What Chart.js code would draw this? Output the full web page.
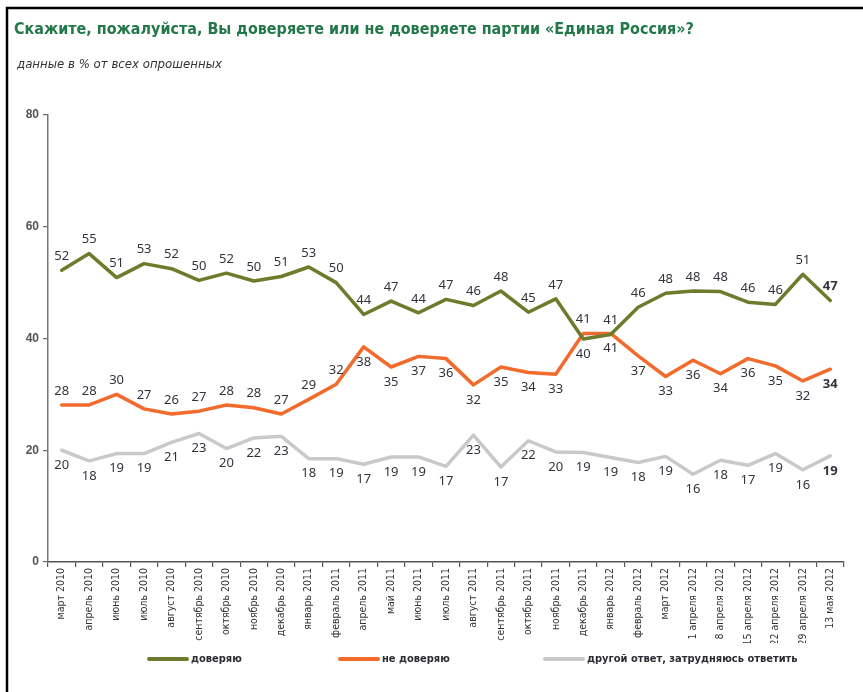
<!DOCTYPE html>
<html>
<head>
<meta charset="utf-8">
<script src="https://cdn.jsdelivr.net/npm/chart.js@4.4.0/dist/chart.umd.min.js"></script>
<style>
  html, body { margin: 0; padding: 0; background: #fff; }
  #wrap { position: relative; width: 863px; height: 692px; }
</style>
</head>
<body>
<div id="wrap"><canvas id="chart" width="863" height="692"></canvas></div>
<script>
const categories = [
  'март 2010', 'апрель 2010', 'июнь 2010', 'июль 2010', 'август 2010', 'сентябрь 2010',
  'октябрь 2010', 'ноябрь 2010', 'декабрь 2010', 'январь 2011', 'февраль 2011', 'апрель 2011',
  'май 2011', 'июнь 2011', 'июль 2011', 'август 2011', 'сентябрь 2011', 'октябрь 2011',
  'ноябрь 2011', 'декабрь 2011', 'январь 2012', 'февраль 2012', 'март 2012', '1 апреля 2012',
  '8 апреля 2012', '15 апреля 2012', '22 апреля 2012', '29 апреля 2012', '13 мая 2012'
];

// line positions (unrounded, as drawn)
const trust = [52.2, 55.2, 50.9, 53.4, 52.5, 50.4, 51.7, 50.3, 51.1, 52.8, 50.0, 44.3, 46.7, 44.6, 47.0,
  45.9, 48.5, 44.7, 47.1, 39.9, 40.7, 45.6, 48.1, 48.5, 48.4, 46.5, 46.1, 51.5, 46.8];
const distrust = [28.1, 28.1, 30.0, 27.4, 26.5, 27.0, 28.1, 27.6, 26.5, 29.1, 31.8, 38.5, 34.9, 36.8, 36.4,
  31.7, 34.9, 33.9, 33.6, 40.9, 40.9, 36.9, 33.2, 36.1, 33.7, 36.4, 35.1, 32.4, 34.5];
const other = [20.0, 18.1, 19.4, 19.4, 21.4, 23.0, 20.3, 22.2, 22.5, 18.5, 18.5, 17.5, 18.8, 18.8, 17.1,
  22.7, 17.0, 21.7, 19.7, 19.6, 18.7, 17.8, 18.9, 15.7, 18.2, 17.3, 19.4, 16.5, 19.0];

// printed (rounded) values
const trustLabels = [52, 55, 51, 53, 52, 50, 52, 50, 51, 53, 50, 44, 47, 44, 47,
  46, 48, 45, 47, 40, 41, 46, 48, 48, 48, 46, 46, 51, 47];
const distrustLabels = [28, 28, 30, 27, 26, 27, 28, 28, 27, 29, 32, 38, 35, 37, 36,
  32, 35, 34, 33, 41, 41, 37, 33, 36, 34, 36, 35, 32, 34];
const otherLabels = [20, 18, 19, 19, 21, 23, 20, 22, 23, 18, 19, 17, 19, 19, 17,
  23, 17, 22, 20, 19, 19, 18, 19, 16, 18, 17, 19, 16, 19];

const seriesNames = ['доверяю', 'не доверяю', 'другой ответ, затрудняюсь ответить'];

// u = label above the line, d = below
const trustSide    = 'uuuuuuuuuuuuuuuuuuuduuuuuuuuu';
const distrustSide = 'uuuuuuuuuuudddddddduddddddddd';
const otherSide    = 'ddddddddddddddddddddddddddddd';

const TITLE = 'Скажите, пожалуйста, Вы доверяете или не доверяете партии «Единая Россия»?';
const SUBTITLE = 'данные в % от всех опрошенных';
const COND = '"DejaVu Sans Condensed", "Roboto", sans-serif';

function fitFont(ctx, text, style, family, width) {
  ctx.font = style + ' 100px ' + family;
  const w = ctx.measureText(text).width;
  return style + ' ' + (100 * width / w).toFixed(2) + 'px ' + family;
}

const frameAndTitle = {
  id: 'frameAndTitle',
  beforeDraw(chart) {
    const ctx = chart.ctx;
    ctx.save();
    ctx.fillStyle = '#fff';
    ctx.fillRect(0, 0, chart.width, chart.height);
    ctx.strokeStyle = '#000';
    ctx.lineWidth = 2.5;
    ctx.beginPath();
    ctx.moveTo(7, 692);
    ctx.lineTo(7, 8);
    ctx.lineTo(863, 8);
    ctx.stroke();

    ctx.textBaseline = 'alphabetic';
    ctx.textAlign = 'left';
    ctx.fillStyle = '#23784a';
    ctx.font = fitFont(ctx, TITLE, 'bold', COND, 680);
    ctx.fillText(TITLE, 14, 34);
    ctx.fillStyle = '#333';
    ctx.font = fitFont(ctx, SUBTITLE, 'italic', COND, 205);
    ctx.fillText(SUBTITLE, 17, 68);
    ctx.restore();
  }
};

const valueLabels = {
  id: 'valueLabels',
  afterDatasetsDraw(chart) {
    const ctx = chart.ctx;
    ctx.save();
    ctx.textAlign = 'center';
    ctx.textBaseline = 'middle';
    ctx.fillStyle = '#33333d';
    chart.data.datasets.forEach((ds, di) => {
      const meta = chart.getDatasetMeta(di);
      meta.data.forEach((pt, i) => {
        const last = i === meta.data.length - 1;
        ctx.font = (last ? 'bold ' : '') + '13px "Noto Sans"';
        const dy = ds.labelSide[i] === 'd' ? 15 : -14;
        ctx.fillText(String(ds.shownValues[i]), pt.x, pt.y + dy);
      });
    });
    ctx.restore();
  }
};

const customLegend = {
  id: 'customLegend',
  afterDraw(chart) {
    const ctx = chart.ctx;
    const starts = [147, 338, 543];
    const y = 659;
    ctx.save();
    ctx.textBaseline = 'middle';
    ctx.textAlign = 'left';
    ctx.font = 'bold 11px ' + COND;
    chart.data.datasets.forEach((ds, i) => {
      const x = starts[i];
      ctx.strokeStyle = ds.borderColor;
      ctx.lineWidth = 4;
      ctx.lineCap = 'round';
      ctx.beginPath();
      ctx.moveTo(x + 2, y);
      ctx.lineTo(x + 40, y);
      ctx.stroke();
      ctx.fillStyle = '#2b2b33';
      ctx.fillText(ds.label, x + 44, y);
    });
    ctx.restore();
  }
};

new Chart(document.getElementById('chart'), {
  type: 'line',
  data: {
    labels: categories,
    datasets: [
      { label: seriesNames[0], data: trust, shownValues: trustLabels, labelSide: trustSide,
        borderColor: '#6d7b2c' },
      { label: seriesNames[1], data: distrust, shownValues: distrustLabels, labelSide: distrustSide,
        borderColor: '#f26a2c' },
      { label: seriesNames[2], data: other, shownValues: otherLabels, labelSide: otherSide,
        borderColor: '#c9c9c9' }
    ]
  },
  options: {
    responsive: false,
    animation: false,
    events: [],
    layout: { padding: { top: 115, right: 19, bottom: 49, left: 0 } },
    elements: {
      line: { borderWidth: 3.5, tension: 0, borderCapStyle: 'round', borderJoinStyle: 'round', fill: false },
      point: { radius: 0 }
    },
    plugins: {
      legend: { display: false },
      title: { display: false },
      tooltip: { enabled: false }
    },
    scales: {
      x: {
        offset: true,
        grid: { offset: true, drawOnChartArea: false, drawTicks: true, tickLength: 5, color: '#555', lineWidth: 1.2 },
        border: { color: '#555', width: 1.5 },
        ticks: {
          autoSkip: false, minRotation: 90, maxRotation: 90, padding: 1,
          color: '#333', font: { family: COND, size: 10.5 }
        },
        afterFit(scale) { scale.height = 81; }
      },
      y: {
        min: 0, max: 80,
        grid: { drawOnChartArea: false, drawTicks: true, tickLength: 5, color: '#666', lineWidth: 1.2 },
        border: { color: '#777', width: 1.5 },
        ticks: {
          stepSize: 20, padding: 4,
          color: '#555', font: { family: '"Liberation Sans"', size: 12, weight: 'bold' }
        },
        afterFit(scale) { scale.width = 48; }
      }
    }
  },
  plugins: [frameAndTitle, valueLabels, customLegend]
});
</script>
</body>
</html>
